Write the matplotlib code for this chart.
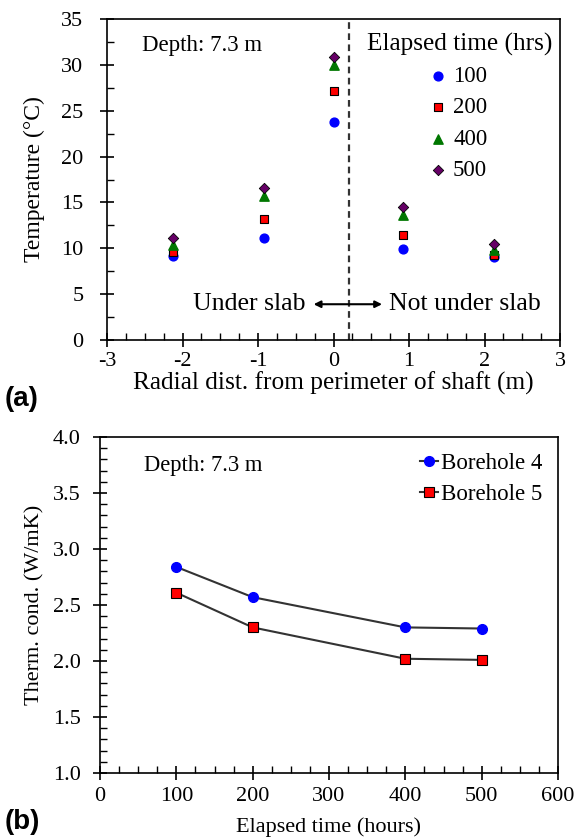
import matplotlib
matplotlib.use("Agg")
import matplotlib.pyplot as plt
from matplotlib.ticker import MultipleLocator, FormatStrFormatter

plt.rcParams['font.family'] = ['Liberation Serif', 'DejaVu Serif']

# (a) temperature vs radial distance
radial_dist = [-2.13, -0.92, 0.0, 0.92, 2.13]
temp_100 = [9.2, 11.1, 23.8, 9.9, 9.1]
temp_200 = [9.6, 13.2, 27.1, 11.5, 9.3]
temp_400 = [10.4, 15.7, 30.0, 13.6, 9.8]
temp_500 = [11.1, 16.6, 30.9, 14.5, 10.5]
slab_edge = 0.2

# (b) thermal conductivity vs elapsed time
elapsed_hours = [100, 200, 400, 500]
k_borehole4 = [2.84, 2.57, 2.30, 2.29]
k_borehole5 = [2.61, 2.30, 2.02, 2.01]

fig = plt.figure(figsize=(5.76, 8.4), dpi=100)

def style_ticks(ax, xpad, ypad):
    ax.tick_params(which='major', direction='inout', length=10, width=1.2,
                   labelsize=16, top=False, right=False)
    ax.tick_params(axis='x', which='major', pad=xpad)
    ax.tick_params(axis='y', which='major', pad=ypad)
    ax.tick_params(which='minor', direction='in', length=5, width=1.0,
                   top=False, right=False)
    for s in ax.spines.values():
        s.set_linewidth(1.2)

# ---------- (a)
ax1 = fig.add_axes([107/576, 500/840, 453/576, 321/840])
ax1.scatter(radial_dist, temp_100, marker='o', s=40, color='#0000ff', label='100', zorder=3)
ax1.scatter(radial_dist, temp_200, marker='s', s=40, color='#ff0000', edgecolor='black', linewidth=0.8, label='200', zorder=3)
ax1.scatter(radial_dist, temp_400, marker='^', s=45, color='#007700', label='400', zorder=3)
ax1.scatter(radial_dist, temp_500, marker='D', s=28, color='#660066', edgecolor='black', linewidth=0.6, label='500', zorder=4)
ax1.axvline(slab_edge, color='#333333', linestyle=(0, (3, 2)), linewidth=1.6)
ax1.set_xlim(-3, 3)
ax1.set_ylim(0, 35)
ax1.xaxis.set_major_locator(MultipleLocator(1))
ax1.xaxis.set_minor_locator(MultipleLocator(0.25))
ax1.yaxis.set_major_locator(MultipleLocator(5))
ax1.yaxis.set_minor_locator(MultipleLocator(2.5))
ax1.xaxis.set_major_formatter(FormatStrFormatter('%d'))
style_ticks(ax1, 4, 12)
ax1.set_xlabel('Radial dist. from perimeter of shaft (m)', fontsize=18.3, labelpad=0)
ax1.set_ylabel('Temperature (°C)', fontsize=17)
ax1.yaxis.set_label_coords(-0.137, 0.5)
ax1.text(-2.54, 32.1, 'Depth: 7.3 m', fontsize=16.5, va='center')
ax1.annotate('', xy=(-0.3, 3.9), xytext=(0.68, 3.9),
             arrowprops=dict(arrowstyle='<|-|>', color='black', lw=1.5, mutation_scale=10))
ax1.text(-0.37, 3.9, 'Under slab', fontsize=18.5, ha='right', va='center')
ax1.text(0.73, 3.9, 'Not under slab', fontsize=18.5, ha='left', va='center')
ax1.legend(title='Elapsed time (hrs)', loc='upper right', bbox_to_anchor=(1.005, 0.99),
           frameon=False, fontsize=16.5, title_fontsize=18.2, handlelength=0.6,
           handletextpad=0.35, labelspacing=0.45, borderaxespad=0.05, markerscale=1.0)
fig.text(5/576, 1 - 399/840, '(a)', fontsize=20, fontweight='bold',
         family='Liberation Sans', va='center')

# ---------- (b)
ax2 = fig.add_axes([100/576, 67/840, 458/576, 336/840])
ax2.plot(elapsed_hours, k_borehole4, color='#333333', linewidth=1.5, marker='o',
         markersize=7, markerfacecolor='#0000ff', markeredgecolor='#0000ff', label='Borehole 4')
ax2.plot(elapsed_hours, k_borehole5, color='#333333', linewidth=1.5, marker='s',
         markersize=7, markerfacecolor='#ff0000', markeredgecolor='black', markeredgewidth=0.8,
         label='Borehole 5')
ax2.set_xlim(0, 600)
ax2.set_ylim(1.0, 4.0)
ax2.xaxis.set_major_locator(MultipleLocator(100))
ax2.xaxis.set_minor_locator(MultipleLocator(25))
ax2.yaxis.set_major_locator(MultipleLocator(0.5))
ax2.yaxis.set_minor_locator(MultipleLocator(0.1))
ax2.yaxis.set_major_formatter(FormatStrFormatter('%.1f'))
style_ticks(ax2, 5, 9)
ax2.set_xlabel('Elapsed time (hours)', fontsize=16, labelpad=8)
ax2.set_ylabel('Therm. cond. (W/mK)', fontsize=16)
ax2.yaxis.set_label_coords(-0.122, 0.5)
ax2.text(58, 3.75, 'Depth: 7.3 m', fontsize=16.3, va='center')
ax2.legend(loc='upper right', frameon=False, fontsize=16.5, handlelength=0.8,
           handletextpad=0.1, labelspacing=0.45, borderaxespad=0.3)
fig.text(5/576, 1 - 822/840, '(b)', fontsize=20, fontweight='bold',
         family='Liberation Sans', va='center')

fig.savefig('out.png', dpi=100)
